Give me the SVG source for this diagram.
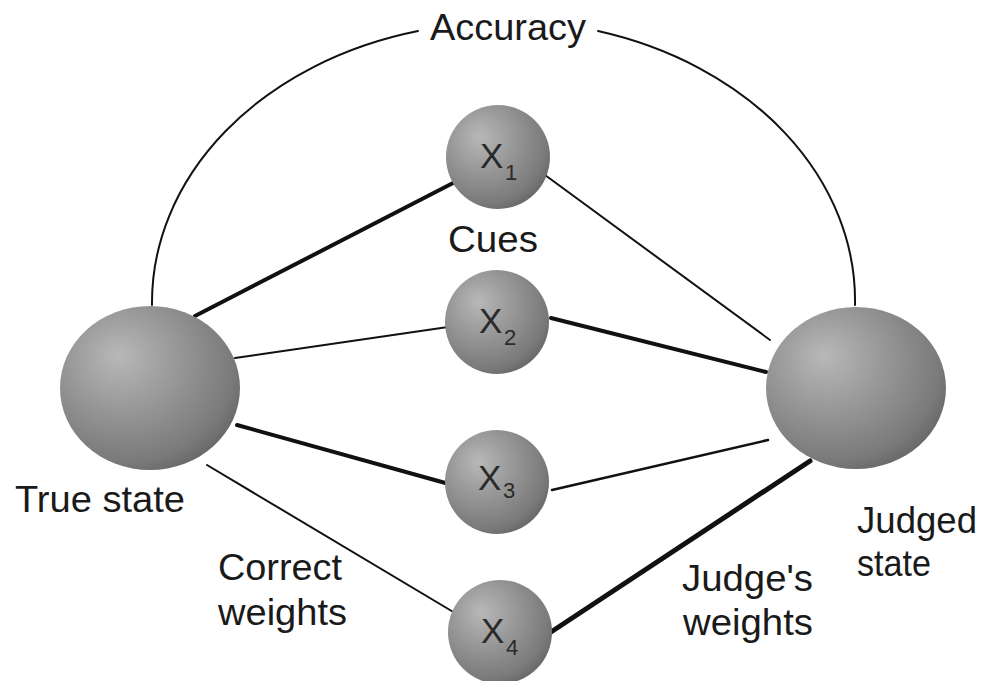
<svg xmlns="http://www.w3.org/2000/svg" width="984" height="681" viewBox="0 0 984 681">
<defs>
<radialGradient id="sph" cx="0.38" cy="0.36" r="0.7" fx="0.32" fy="0.3">
<stop offset="0" stop-color="#b8b8b8"/>
<stop offset="0.45" stop-color="#979797"/>
<stop offset="0.85" stop-color="#7a7a7a"/>
<stop offset="1" stop-color="#666666"/>
</radialGradient>
<style>
.sp{fill:url(#sph);}
.t{font-family:"Liberation Sans",Arial,sans-serif;font-size:37px;fill:#1a1a1a;}
.x{font-family:"Liberation Sans",Arial,sans-serif;font-size:35px;fill:#2a2a2a;}
.s{font-family:"Liberation Sans",Arial,sans-serif;font-size:22px;fill:#2a2a2a;}
.c{stroke:#111;fill:none;stroke-linecap:round;}
</style>
</defs>
<rect width="984" height="681" fill="#fff"/>
<g id="connectors">
<path class="c" stroke-width="2" d="M152,305 A351.5,280 0 0 1 418,31"/>
<path class="c" stroke-width="2" d="M598,31 A351.5,280 0 0 1 855,305"/>
<line class="c" stroke-width="4" x1="195" y1="316" x2="455" y2="182"/>
<line class="c" stroke-width="2" x1="235" y1="358" x2="448" y2="327"/>
<line class="c" stroke-width="4" x1="237" y1="425" x2="449" y2="484"/>
<line class="c" stroke-width="2" x1="207" y1="465" x2="455" y2="613"/>
<line class="c" stroke-width="2" x1="545" y1="175" x2="770" y2="340"/>
<line class="c" stroke-width="4" x1="551" y1="318" x2="766" y2="372"/>
<line class="c" stroke-width="2.5" x1="552" y1="490" x2="768" y2="440"/>
<line class="c" stroke-width="5" x1="551" y1="632" x2="810" y2="461"/>
</g>
<g id="accuracy"><text class="t" x="430" y="40" textLength="156" lengthAdjust="spacingAndGlyphs">Accuracy</text></g>
<g id="true-state">
<ellipse class="sp" cx="150" cy="388" rx="90" ry="82"/>
<text class="t" x="15" y="512" textLength="170" lengthAdjust="spacingAndGlyphs">True state</text>
</g>
<g id="judged-state">
<ellipse class="sp" cx="856" cy="388" rx="90" ry="81"/>
<text class="t" x="857" y="533" textLength="120" lengthAdjust="spacingAndGlyphs">Judged</text>
<text class="t" x="857" y="576" textLength="74" lengthAdjust="spacingAndGlyphs">state</text>
</g>
<g id="x1">
<circle class="sp" cx="498" cy="157" r="52"/>
<text class="x" x="480" y="168">X</text><text class="s" x="505" y="180">1</text>
</g>
<g id="cues"><text class="t" x="448" y="252" textLength="90" lengthAdjust="spacingAndGlyphs">Cues</text></g>
<g id="x2">
<circle class="sp" cx="497" cy="322" r="52"/>
<text class="x" x="479" y="333">X</text><text class="s" x="504" y="345">2</text>
</g>
<g id="x3">
<circle class="sp" cx="497" cy="482" r="52"/>
<text class="x" x="478" y="490">X</text><text class="s" x="503" y="498">3</text>
</g>
<g id="x4">
<circle class="sp" cx="500" cy="632" r="52"/>
<text class="x" x="481" y="643">X</text><text class="s" x="506" y="655">4</text>
</g>
<g id="correct-weights">
<text class="t" x="218" y="580" textLength="124" lengthAdjust="spacingAndGlyphs">Correct</text>
<text class="t" x="218" y="625" textLength="129" lengthAdjust="spacingAndGlyphs">weights</text>
</g>
<g id="judges-weights">
<text class="t" x="682" y="591" textLength="131" lengthAdjust="spacingAndGlyphs">Judge's</text>
<text class="t" x="683" y="635" textLength="130" lengthAdjust="spacingAndGlyphs">weights</text>
</g>
</svg>
